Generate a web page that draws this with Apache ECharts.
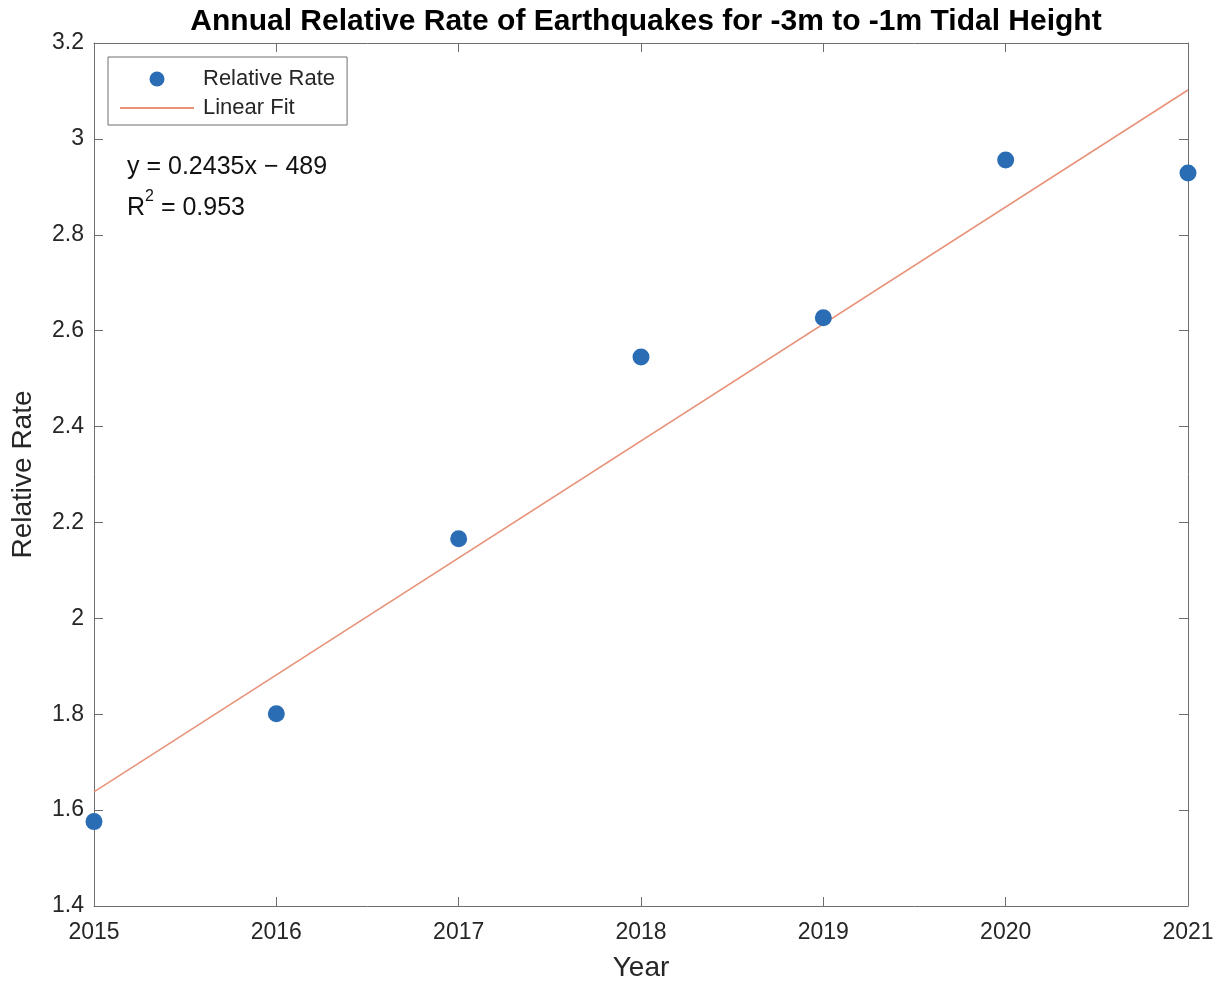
<!DOCTYPE html>
<html>
<head>
<meta charset="utf-8">
<script src="https://cdn.jsdelivr.net/npm/echarts@6/dist/echarts.min.js"></script>
<style>
  html, body { margin: 0; padding: 0; background: #fff; }
  #chart { width: 1222px; height: 985px; }
</style>
</head>
<body>
<div id="chart"></div>
<script>
// Annual relative earthquake rate for -3m to -1m tidal height
const years = [2015, 2016, 2017, 2018, 2019, 2020, 2021];
const relativeRate = [1.576, 1.801, 2.166, 2.545, 2.627, 2.956, 2.929];
const fitYears = [2015, 2021];
const fitValues = [1.638, 3.102];
const yTicks = [1.4, 1.6, 1.8, 2.0, 2.2, 2.4, 2.6, 2.8, 3.0, 3.2];

const FONT = '"Liberation Sans", Arial, Helvetica, sans-serif';
const AXIS_COLOR = '#6e6e6e';
const TEXT_COLOR = '#262626';
const FIT_COLOR = '#e8937a';

const chart = echarts.init(document.getElementById('chart'));

const baseX = {
  type: 'value', min: 2015, max: 2021, interval: 1,
  axisLine: { show: true, lineStyle: { color: AXIS_COLOR, width: 1 } },
  axisTick: { show: true, inside: true, length: 9, lineStyle: { color: AXIS_COLOR } },
  splitLine: { show: false }
};
const baseY = {
  type: 'value', min: yTicks[0], max: yTicks[yTicks.length - 1], interval: 0.2,
  axisLine: { show: true, lineStyle: { color: AXIS_COLOR, width: 1 } },
  axisTick: { show: true, inside: true, length: 9, lineStyle: { color: AXIS_COLOR } },
  splitLine: { show: false }
};

chart.setOption({
  animation: false,
  backgroundColor: '#fff',
  title: {
    text: 'Annual Relative Rate of Earthquakes for -3m to -1m Tidal Height',
    left: 641, top: 2, textAlign: 'center',
    textStyle: { fontFamily: FONT, fontSize: 30, fontWeight: 'bold', color: '#000' }
  },
  grid: {
    left: 94, right: 34, top: 43, bottom: 79,
    containLabel: false, outerBoundsMode: 'none'
  },
  legend: {
    left: 108, top: 57,
    orient: 'vertical',
    padding: [10, 12, 5, 11],
    itemGap: 5,
    itemWidth: 74, itemHeight: 15,
    borderColor: '#6e6e6e', borderWidth: 1, borderRadius: 0,
    textStyle: {
      fontFamily: FONT, fontSize: 22, color: TEXT_COLOR,
      lineHeight: 24, padding: [0, 0, 0, 4]
    },
    data: [
      { name: 'Relative Rate', icon: 'circle' },
      { name: 'Linear Fit', itemStyle: { opacity: 0 } }
    ]
  },
  xAxis: [
    Object.assign({}, baseX, {
      position: 'bottom',
      name: 'Year', nameLocation: 'middle', nameGap: 48,
      nameTextStyle: { fontFamily: FONT, fontSize: 28, color: TEXT_COLOR },
      axisLabel: {
        fontFamily: FONT, fontSize: 23, color: TEXT_COLOR, margin: 15,
        formatter: v => String(v)
      }
    }),
    Object.assign({}, baseX, { position: 'top', axisLabel: { show: false } })
  ],
  yAxis: [
    Object.assign({}, baseY, {
      position: 'left',
      name: 'Relative Rate', nameLocation: 'middle', nameGap: 57,
      nameTextStyle: { fontFamily: FONT, fontSize: 28, color: TEXT_COLOR },
      axisLabel: {
        fontFamily: FONT, fontSize: 23, color: TEXT_COLOR, margin: 10,
        formatter: v => (Math.round(v * 10) / 10).toString()
      }
    }),
    Object.assign({}, baseY, { position: 'right', axisLabel: { show: false } })
  ],
  series: [
    {
      name: 'Linear Fit',
      type: 'line',
      data: fitYears.map((x, i) => [x, fitValues[i]]),
      showSymbol: false, symbol: 'none',
      lineStyle: { color: FIT_COLOR, width: 1.6 },
      itemStyle: { color: FIT_COLOR },
      z: 2
    },
    {
      name: 'Relative Rate',
      type: 'scatter',
      data: years.map((x, i) => [x, relativeRate[i]]),
      symbol: 'circle', symbolSize: 17,
      itemStyle: { color: '#2a6db5', opacity: 1 },
      z: 3
    }
  ],
  graphic: [
    {
      type: 'text', left: 127, top: 155,
      style: {
        text: 'y = 0.2435x \u2212 489',
        font: '25px ' + FONT, fill: '#111'
      }
    },
    {
      type: 'text', left: 127, top: 189,
      style: {
        text: '{b|R}{s|2}{b| = 0.953}',
        fill: '#111',
        rich: {
          b: { fontFamily: FONT, fontSize: 25, color: '#111', verticalAlign: 'bottom', lineHeight: 32 },
          s: { fontFamily: FONT, fontSize: 16, color: '#111', verticalAlign: 'top', lineHeight: 32, padding: [0, 0, 14, 0] }
        }
      }
    }
  ]
});
</script>
</body>
</html>
